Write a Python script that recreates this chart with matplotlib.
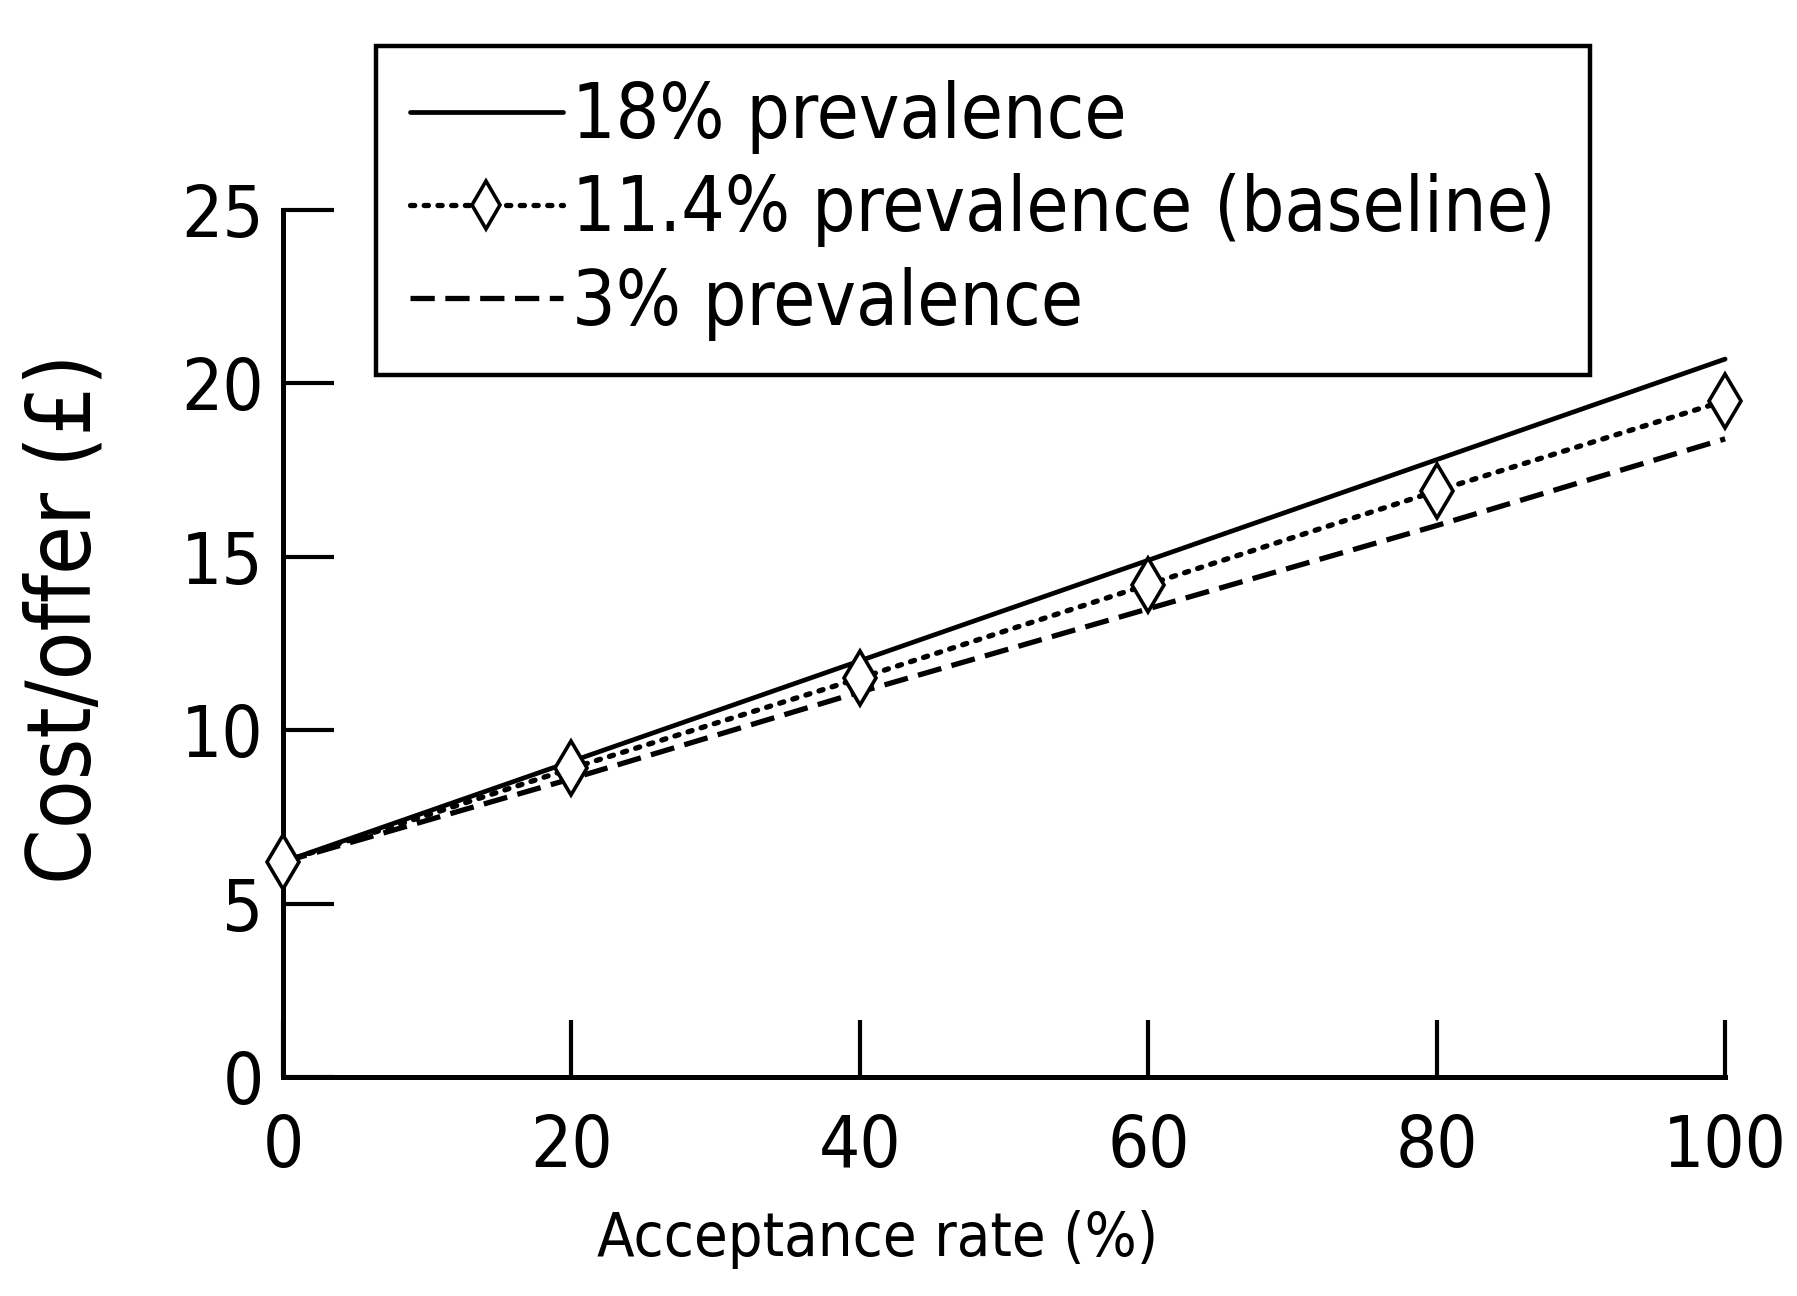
import matplotlib
matplotlib.use("Agg")
import matplotlib.pyplot as plt

# acceptance rate (%) and cost per offer (GBP) for three prevalence levels
acceptance = [0, 20, 40, 60, 80, 100]
cost_18 = [6.2, 9.1, 12.0, 14.9, 17.8, 20.7]
cost_11_4 = [6.2, 8.9, 11.5, 14.2, 16.9, 19.5]
cost_3 = [6.2, 8.6, 11.1, 13.5, 15.9, 18.4]

labels = ["18% prevalence", "11.4% prevalence (baseline)", "3% prevalence"]
xticks = [0, 20, 40, 60, 80, 100]
yticks = [0, 5, 10, 15, 20, 25]

plt.rcParams['font.family'] = ['DejaVu Sans']
plt.rcParams['font.stretch'] = 'condensed'

fig = plt.figure(figsize=(17.97, 12.96), dpi=100)
ax = fig.add_axes([0.1575, 0.169, 0.8025, 0.669])

lw = 3.4
ax.plot(acceptance, cost_18, color='black', lw=lw, solid_capstyle='round',
        label=labels[0], clip_on=False)
ax.plot(acceptance, cost_11_4, color='black', lw=lw + 0.4, ls=(0, (0.8, 1.8)),
        dash_capstyle='round', marker='d', ms=27, mfc='white', mec='black',
        mew=2.6, label=labels[1], clip_on=False, zorder=4)
ax.plot(acceptance, cost_3, color='black', lw=lw + 0.4, ls=(0, (4.6, 2.0)),
        label=labels[2], clip_on=False)

ax.set_xlim(0, 100)
ax.set_ylim(0, 25)
ax.set_xticks(xticks)
ax.set_yticks(yticks)
ax.tick_params(axis='x', direction='in', length=41, width=3, pad=26, labelsize=52)
ax.tick_params(axis='y', direction='in', length=37, width=3, pad=14, labelsize=52)

for side in ['top', 'right']:
    ax.spines[side].set_visible(False)
for side in ['left', 'bottom']:
    ax.spines[side].set_linewidth(3.6)

ax.set_xlabel("Acceptance rate (%)", fontsize=44)
ax.set_ylabel("Cost/offer (£)", fontsize=64)
ax.xaxis.set_label_coords(0.412, -0.153)
ax.yaxis.set_label_coords(-0.12, 0.528)

leg = ax.legend(loc='upper left', bbox_to_anchor=(0.209, 0.9645),
                bbox_transform=fig.transFigure, fontsize=55, numpoints=1,
                handlelength=2.0, handletextpad=0.12, borderpad=0.45,
                labelspacing=0.25, borderaxespad=0, fancybox=False,
                framealpha=1, edgecolor='black')
leg.get_frame().set_linewidth(3.2)
for h in leg.legend_handles:
    h.set_markersize(24)

fig.savefig("out.png", dpi=100, facecolor='white')
